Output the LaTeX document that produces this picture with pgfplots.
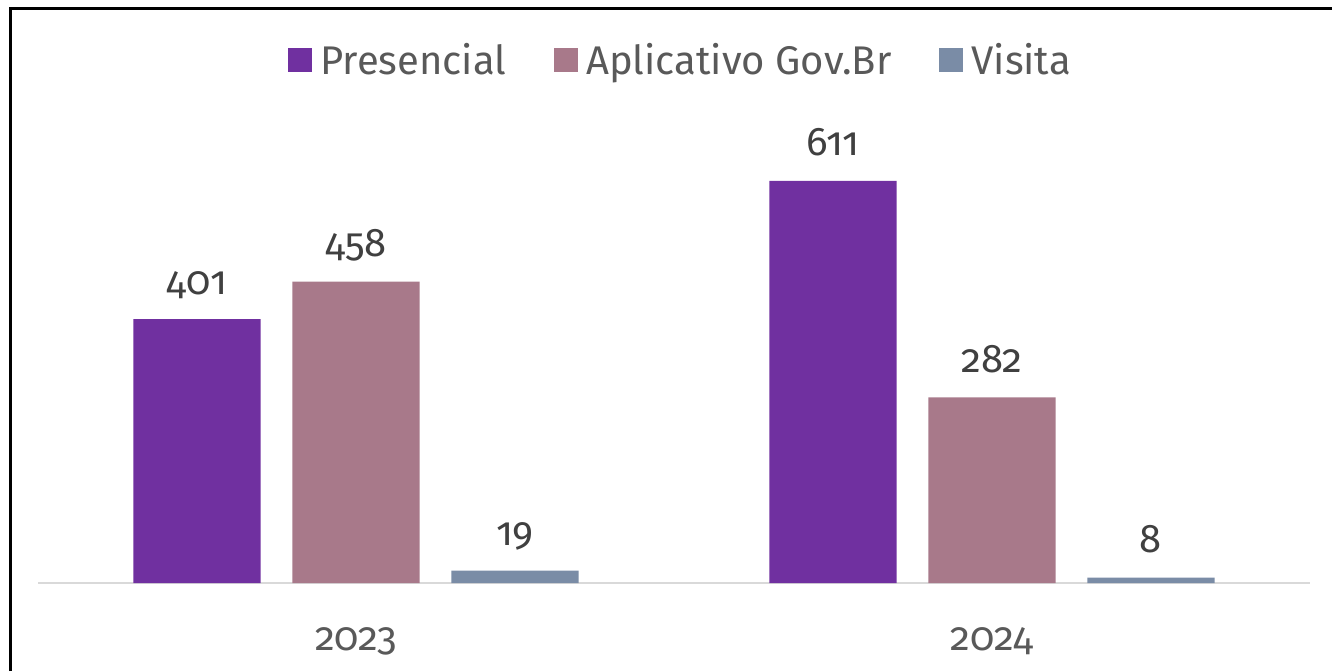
\documentclass[border=0pt]{standalone}
\usepackage{fontspec}
\setmainfont{Fira Sans}[Numbers=OldStyle]
\usepackage{pgfplots}
\pgfplotsset{compat=1.18}

\definecolor{cPres}{HTML}{7030A0}
\definecolor{cApp}{HTML}{A8798A}
\definecolor{cVis}{HTML}{7A8CA6}
\definecolor{txtGray}{HTML}{595959}
\definecolor{lblGray}{HTML}{404040}
\definecolor{axGray}{HTML}{D9D9D9}

\begin{document}
\begin{tikzpicture}
\useasboundingbox (0,0) rectangle (666pt,335.5pt);
% frame (only top and left edges visible)
\draw[line width=1.5pt, black] (5pt,0) -- (5pt,331pt) -- (666pt,331pt);

\begin{axis}[
  at={(19pt,44pt)}, anchor=south west,
  scale only axis,
  width=636pt, height=241.5pt,
  xmin=-0.5, xmax=1.5,
  ymin=0, ymax=734,
  ybar, bar width=0.2,
  axis y line=none,
  axis x line*=bottom,
  x axis line style={axGray, line width=1pt, -},
  xtick={0,1},
  xticklabels={2023,2024},
  major tick length=0pt,
  /pgf/number format/assume math mode=true,
  xticklabel style={font=\fontsize{20}{22}\selectfont, text=txtGray, anchor=base, yshift=-33.5pt},
  nodes near coords,
  every node near coord/.append style={font=\fontsize{20}{22}\selectfont, text=lblGray, anchor=base, yshift=12.5pt},
  legend style={at={(0.506,1.083)}, anchor=center, draw=none, fill=none,
    font=\fontsize{20}{24}\selectfont, text=txtGray,
    legend columns=3,
    /tikz/every odd column/.append style={column sep=2pt},
    /tikz/every even column/.append style={column sep=22pt}},
  legend image code/.code={\fill[#1] (0pt,-6pt) rectangle (12pt,6pt);},
  legend cell align=left,
]
\addplot[fill=cPres, draw=none, bar shift=-0.25] coordinates {(0,401) (1,611)};
\addlegendentry{Presencial}
\addplot[fill=cApp, draw=none, bar shift=0] coordinates {(0,458) (1,282)};
\addlegendentry{Aplicativo Gov.Br}
\addplot[fill=cVis, draw=none, bar shift=0.25] coordinates {(0,19) (1,8)};
\addlegendentry{Visita}
\end{axis}
\end{tikzpicture}
\end{document}
